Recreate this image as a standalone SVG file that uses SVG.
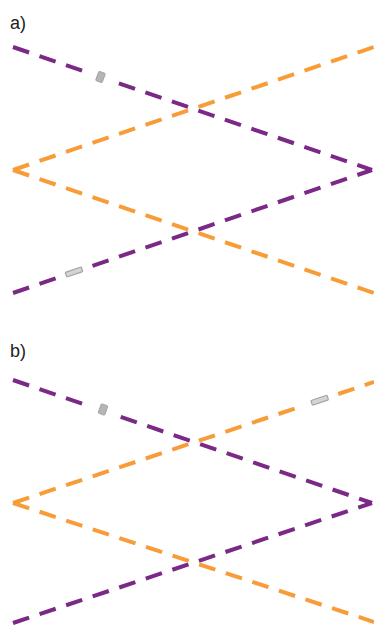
<svg xmlns="http://www.w3.org/2000/svg" width="374" height="627" viewBox="0 0 374 627">
<style>
.p{stroke:#7b2887;stroke-width:4;fill:none;stroke-dasharray:17 11}
.o{stroke:#f89c38;stroke-width:4;fill:none;stroke-dasharray:17 11}
.lbl{font-family:"Liberation Sans",Arial,sans-serif;font-size:18px;fill:#222}
.gt{fill:#b5b5b5;stroke:#9d9d9d;stroke-width:0.8}
.gd{fill:#d4d4d4;stroke:#a3a3a3;stroke-width:1.2}
</style>
<rect width="374" height="627" fill="#fff"/>
<g id="panel-a">
  <text class="lbl" x="10" y="29">a)</text>
  <g id="a-lines">
    <line class="p" x1="13" y1="47" x2="86.8" y2="72.3"/>
    <line class="p" x1="118.9" y1="83.3" x2="372" y2="170"/>
    <line class="p" x1="13" y1="293" x2="55.6" y2="278.4"/>
    <line class="p" x1="92.5" y1="265.8" x2="372" y2="170"/>
    <line class="o" x1="13" y1="170" x2="374" y2="47"/>
    <line class="o" x1="13" y1="170" x2="374" y2="293"/>
  </g>
  <g id="a-marker-1" transform="translate(100.5 77) rotate(20)"><rect class="gt" x="-3.5" y="-5" width="7" height="10" rx="1"/></g>
  <g id="a-marker-2" transform="translate(74 272) rotate(-18.9)"><rect class="gd" x="-8.5" y="-2.5" width="17" height="5" rx="1"/></g>
</g>
<g id="panel-b">
  <text class="lbl" x="10" y="357">b)</text>
  <g id="b-lines">
    <line class="p" x1="13" y1="380" x2="88.6" y2="405.9"/>
    <line class="p" x1="120.7" y1="416.9" x2="372" y2="503"/>
    <line class="p" x1="13" y1="623" x2="372" y2="503"/>
    <line class="o" x1="13" y1="503" x2="301.2" y2="406.4"/>
    <line class="o" x1="338.2" y1="394" x2="374" y2="382"/>
    <line class="o" x1="13" y1="503" x2="374" y2="622"/>
  </g>
  <g id="b-marker-1" transform="translate(103 409.5) rotate(20)"><rect class="gt" x="-3.5" y="-5" width="7" height="10" rx="1"/></g>
  <g id="b-marker-2" transform="translate(319.7 400.2) rotate(-18.5)"><rect class="gd" x="-8.5" y="-2.5" width="17" height="5" rx="1"/></g>
</g>
</svg>
